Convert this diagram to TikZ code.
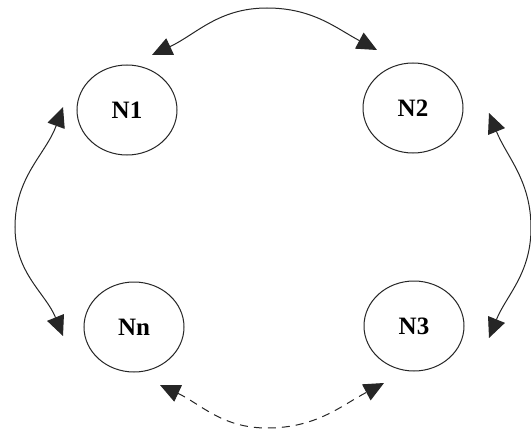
\documentclass[tikz,border=0pt]{standalone}
\usepackage{fontspec}
\setmainfont{Liberation Serif}
\usetikzlibrary{shapes.geometric,arrows.meta}
\begin{document}
\begin{tikzpicture}[x=1pt,y=-1pt,
  nodeellipse/.style={ellipse,draw=black!85,line width=1pt,minimum width=100pt,minimum height=90pt,inner sep=0pt,
    font=\fontsize{25}{29}\selectfont\bfseries},
  link/.style={line width=1pt,draw=black!85,{Triangle[length=20pt,width=18pt]}-{Triangle[length=20pt,width=18pt]}},
  dashlink/.style={link,dash pattern=on 8pt off 6pt}]
\useasboundingbox (0,0) rectangle (531,436);
\fill[white] (0,0) rectangle (531,436);
\node[nodeellipse] (N1) at (127,110) {N1};
\node[nodeellipse] (N2) at (413,108) {N2};
\node[nodeellipse] (Nn) at (134,327) {Nn};
\node[nodeellipse] (N3) at (414,326) {N3};
% top arc
\coordinate (t1) at (152,55);
\coordinate (tp) at (267,8);
\coordinate (t2) at (377,50);
\draw[link] (t1) to[out=25,in=180] (tp) to[out=0,in=152] (t2);
% left arc
\coordinate (l1) at (63,107);
\coordinate (lp) at (15,227);
\coordinate (l2) at (63,336);
\draw[link] (l1) to[out=-110,in=90] (lp) to[out=-90,in=112] (l2);
% right arc
\coordinate (r1) at (489,113);
\coordinate (rp) at (531,228);
\coordinate (r2) at (489,338);
\draw[link] (r1) to[out=-68,in=90] (rp) to[out=-90,in=68] (r2);
% bottom dashed arc
\coordinate (b1) at (160,385);
\coordinate (bp) at (267,428);
\coordinate (b2) at (384,383);
\draw[dashlink] (b1) to[out=-25,in=180] (bp) to[out=0,in=-152] (b2);
\end{tikzpicture}
\end{document}
